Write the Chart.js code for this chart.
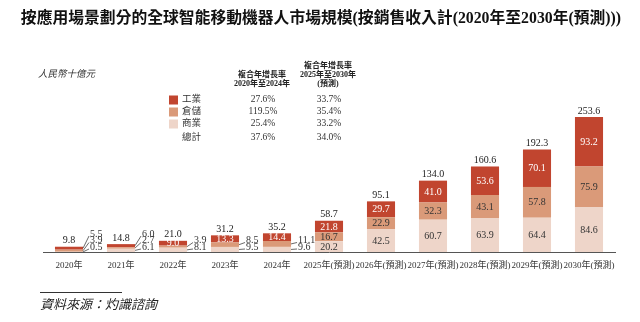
<!DOCTYPE html>
<html>
<head>
<meta charset="utf-8">
<script src="https://cdn.jsdelivr.net/npm/chart.js@4/dist/chart.umd.min.js"></script>
<style>
  html, body { margin: 0; padding: 0; background: #fff; }
  #wrap { position: relative; width: 640px; height: 322px; overflow: hidden;
          font-family: "Liberation Serif", "Noto Sans CJK TC", serif; color: #222; }
  #c { position: absolute; left: 0; top: 0; }
  .c { position: absolute; white-space: nowrap; transform: translate(-50%, -50%); line-height: 1; }
  .l { position: absolute; white-space: nowrap; transform: translateY(-50%); line-height: 1; }
  .sw { position: absolute; width: 9px; height: 9px; transform: translateY(-50%); }
</style>
</head>
<body>
<div id="wrap">
  <canvas id="c" width="640" height="322"></canvas>
  <div class="c" style="left:321px;top:18px;font-size:15.8px;font-weight:bold;color:#111;">按應用場景劃分的全球智能移動機器人市場規模(按銷售收入計(2020年至2030年(預測)))</div>
  <div class="l" style="left:38px;top:75px;font-size:9.5px;font-style:italic;color:#333;">人民幣十億元</div>
  <div id="table"></div>
  <div style="position:absolute;left:40px;top:292px;width:82px;height:1px;background:#333;"></div>
  <div class="l" style="left:40px;top:304px;font-size:13px;font-style:italic;color:#222;">資料來源：灼識諮詢</div>
</div>
<script>
// Categories and values (RMB billion)
const years = ['2020年', '2021年', '2022年', '2023年', '2024年',
  '2025年(預測)', '2026年(預測)', '2027年(預測)', '2028年(預測)', '2029年(預測)', '2030年(預測)'];
const industrial = [5.5, 6.0, 9.0, 13.3, 14.4, 21.8, 29.7, 41.0, 53.6, 70.1, 93.2];
const warehouse  = [3.9, 2.7, 3.9, 8.5, 11.1, 16.7, 22.9, 32.3, 43.1, 57.8, 75.9];
const commercial = [0.5, 6.1, 8.1, 9.5, 9.6, 20.2, 42.5, 60.7, 63.9, 64.4, 84.6];
const totals     = [9.8, 14.8, 21.0, 31.2, 35.2, 58.7, 95.1, 134.0, 160.6, 192.3, 253.6];

// CAGR table
const seriesNames = ['工業', '倉儲', '商業', '總計'];
const cagrHistHead = ['複合年增長率', '2020年至2024年'];
const cagrFcstHead = ['複合年增長率', '2025年至2030年', '(預測)'];
const cagrHist = ['27.6%', '119.5%', '25.4%', '37.6%'];
const cagrFcst = ['33.7%', '35.4%', '33.2%', '34.0%'];

const colors = { industrial: '#C1452F', warehouse: '#DA9A79', commercial: '#EED5C9' };
const serif = '"Liberation Serif", "Noto Sans CJK TC", serif';

// Build the CAGR table with its colour keys
(function buildTable() {
  const t = document.getElementById('table');
  let html = '';
  const headStyle = 'font-size:8px;font-weight:bold;color:#222;';
  cagrHistHead.forEach((s, k) => {
    html += `<div class="c" style="left:262px;top:${74.5 + k * 9}px;${headStyle}">${s}</div>`;
  });
  cagrFcstHead.forEach((s, k) => {
    html += `<div class="c" style="left:328px;top:${65.5 + k * 9}px;${headStyle}">${s}</div>`;
  });
  const rowY = [100, 111.5, 124, 138];
  const swatch = [colors.industrial, colors.warehouse, colors.commercial, null];
  seriesNames.forEach((name, r) => {
    if (swatch[r]) html += `<div class="sw" style="left:169px;top:${rowY[r]}px;background:${swatch[r]};"></div>`;
    html += `<div class="l" style="left:182px;top:${rowY[r]}px;font-size:9.5px;color:#333;">${name}</div>`;
    html += `<div class="c" style="left:263px;top:${rowY[r]}px;font-size:9.5px;color:#333;">${cagrHist[r]}</div>`;
    html += `<div class="c" style="left:329px;top:${rowY[r]}px;font-size:9.5px;color:#333;">${cagrFcst[r]}</div>`;
  });
  t.innerHTML = html;
})();

// Segment values, totals and leader-line labels for the thin segments
const barLabels = {
  id: 'barLabels',
  afterDatasetsDraw(chart) {
    const ctx = chart.ctx;
    const base = chart.scales.y.getPixelForValue(0);
    const sets = chart.data.datasets;
    ctx.save();
    ctx.font = '10px ' + serif;
    ctx.textBaseline = 'middle';
    years.forEach((_, i) => {
      const outside = [];
      for (let d = sets.length - 1; d >= 0; d--) {
        const ds = sets[d];
        const el = chart.getDatasetMeta(d).data[i];
        const v = ds.data[i];
        if (v >= ds.minInside) {
          ctx.fillStyle = ds.labelColor;
          ctx.textAlign = 'center';
          ctx.fillText(v.toFixed(1), el.x, (el.y + el.base) / 2 + 0.5);
        } else {
          outside.push({ v, el });
        }
      }
      const n = outside.length;
      outside.forEach((o, k) => {
        const ly = base - 5 - (n - 1 - k) * 6.5;
        const right = o.el.x + o.el.width / 2;
        const lx = right + 7;
        ctx.strokeStyle = '#444';
        ctx.lineWidth = 0.8;
        ctx.beginPath();
        ctx.moveTo(right, (o.el.y + o.el.base) / 2);
        ctx.lineTo(lx - 1, ly + 2);
        ctx.stroke();
        ctx.fillStyle = '#333';
        ctx.textAlign = 'left';
        ctx.fillText(o.v.toFixed(1), lx, ly);
      });
      const top = chart.getDatasetMeta(sets.length - 1).data[i];
      ctx.fillStyle = '#222';
      ctx.textAlign = 'center';
      ctx.fillText(totals[i].toFixed(1), top.x, top.y - 6);
    });
    ctx.restore();
  }
};

new Chart(document.getElementById('c'), {
  type: 'bar',
  data: {
    labels: years,
    datasets: [
      { label: '商業', data: commercial, backgroundColor: colors.commercial, labelColor: '#333', minInside: 15 },
      { label: '倉儲', data: warehouse, backgroundColor: colors.warehouse, labelColor: '#333', minInside: 15 },
      { label: '工業', data: industrial, backgroundColor: colors.industrial, labelColor: '#fff', minInside: 8 }
    ]
  },
  options: {
    responsive: false,
    animation: false,
    layout: { padding: { left: 43, right: 25, top: 39, bottom: 48 } },
    datasets: { bar: { categoryPercentage: 1, barPercentage: 0.54 } },
    plugins: { legend: { display: false }, tooltip: { enabled: false }, title: { display: false } },
    scales: {
      x: {
        stacked: true,
        grid: { display: false, drawTicks: false },
        border: { display: true, color: '#555', width: 1 },
        ticks: { padding: 8, color: '#333', font: { family: serif, size: 9 }, maxRotation: 0, autoSkip: false },
        afterFit(axis) { axis.height = 22; }
      },
      y: { stacked: true, display: false, min: 0, max: 400 }
    }
  },
  plugins: [barLabels]
});
</script>
</body>
</html>
